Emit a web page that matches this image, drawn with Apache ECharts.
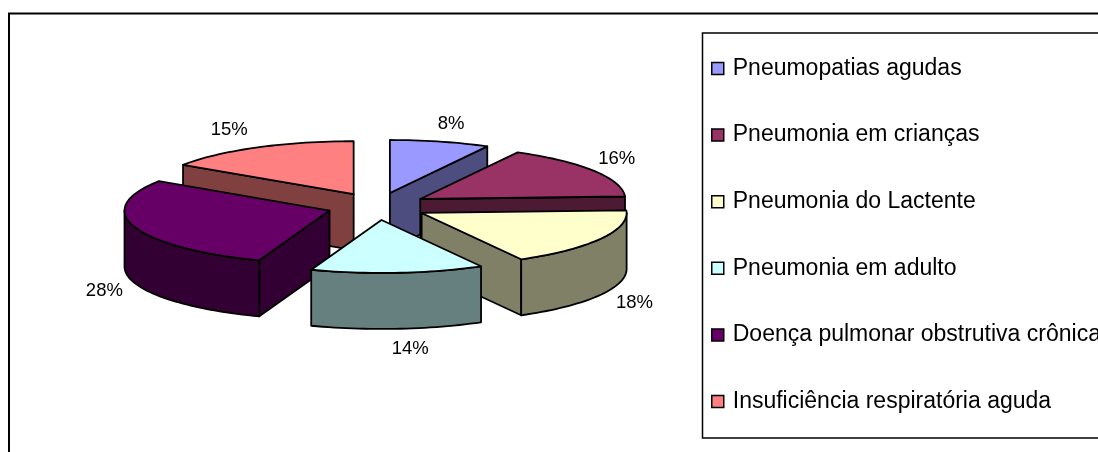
<!DOCTYPE html>
<html>
<head>
<meta charset="utf-8">
<style>html,body{margin:0;padding:0;background:#fff;overflow:hidden}#c{width:1098px;height:452px}</style>
<script src="https://cdn.jsdelivr.net/npm/echarts@6/dist/echarts.min.js"></script>
</head>
<body>
<div id="c"></div>
<script>
var categories = ['Pneumopatias agudas','Pneumonia em crianças','Pneumonia do Lactente','Pneumonia em adulto','Doença pulmonar obstrutiva crônica','Insuficiência respiratória aguda'];
var values = [7.8,16.2,17.5,13.5,28.49,15.49];
var percentLabels = ['8%','16%','18%','14%','28%','15%'];
var topColors = ['#9999ff','#993366','#ffffcc','#ccffff','#660066','#ff8080'];
var wallColors = ['#4d4d80','#4d1a33','#808066','#668080','#330033','#804040'];
var paintOrder = [0,1,5,4,2,3];

var cx=377.5, cy=206.3, rx=205, ry=53, depth=56, explodeX=50.5, explodeY=13.7;
var LW=1.8, FONT='18.5px "Liberation Sans", Arial, sans-serif';
var nudgeX=[3,-5,5,10,1,-12], nudgeY=[2,-1,-2,0,2,0];

var total=values.reduce(function(a,b){return a+b;},0);
function pt(c,t){return [c[0]+rx*Math.sin(t), c[1]-ry*Math.cos(t)];}
function down(p){return [p[0],p[1]+depth];}
function arcPts(c,a,b){var n=Math.max(2,Math.ceil((b-a)/0.03)),o=[];for(var i=0;i<=n;i++)o.push(pt(c,a+(b-a)*i/n));return o;}
function poly(points,fill){return {type:'polygon',shape:{points:points},style:{fill:fill,stroke:'#000',lineWidth:LW,lineJoin:'round'}};}
function quad(a,b){return [a,b,down(b),down(a)];}

function makeRender(idx){
  return function(params,api){
    var share=api.value(0)/total;
    var before=0;for(var k=0;k<idx;k++)before+=values[k]/total;
    var t1=before*2*Math.PI, t2=(before+share)*2*Math.PI, mid=(t1+t2)/2;
    var c=[cx+explodeX*Math.sin(mid), cy-explodeY*Math.cos(mid)];
    var s=pt(c,t1), e=pt(c,t2), ch=[], wall=wallColors[idx];
    if(s[0]<c[0]-0.5) ch.push(poly(quad(c,s),wall));
    if(e[0]>c[0]+0.5) ch.push(poly(quad(c,e),wall));
    var a=Math.max(t1,Math.PI/2), b=Math.min(t2,1.5*Math.PI);
    if(b>a){var top=arcPts(c,a,b);ch.push(poly(top.concat(top.map(down).reverse()),wall));}
    ch.push(poly([c].concat(arcPts(c,t1,t2)),topColors[idx]));
    var m=pt(c,mid), front=Math.cos(mid)<0?depth:0;
    ch.push({type:'text',z2:10,style:{text:percentLabels[idx],
      x:m[0]+33*Math.sin(mid)+nudgeX[idx], y:m[1]+front-20*Math.cos(mid)+nudgeY[idx],
      fill:'#000',font:FONT,align:'center',verticalAlign:'middle'}});
    return {type:'group',children:ch};
  };
}

var chart=echarts.init(document.getElementById('c'),null,{renderer:'canvas'});
chart.setOption({
  animation:false,
  backgroundColor:'#fff',
  graphic:[
    {type:'polyline',silent:true,z:-1,shape:{points:[[9,452],[9,13.5],[1098,13.5]]},style:{stroke:'#000',lineWidth:2,fill:'none'}},
    {type:'rect',silent:true,z:-1,shape:{x:702.5,y:33,width:420,height:405},style:{stroke:'#000',lineWidth:1.5,fill:'#fff'}}
  ],
  legend:{
    orient:'vertical',left:711,top:57,icon:'rect',itemWidth:12,itemHeight:12,itemGap:43.6,padding:0,
    data:categories,selectedMode:false,
    itemStyle:{borderColor:'#000',borderWidth:1.5},
    textStyle:{color:'#000',fontFamily:'"Liberation Sans", Arial, sans-serif',fontSize:23,padding:[0,0,0,4]}
  },
  series:paintOrder.map(function(i){
    return {type:'custom',name:categories[i],coordinateSystem:'none',silent:true,
      itemStyle:{color:topColors[i]},data:[[values[i]]],renderItem:makeRender(i)};
  })
});
</script>
</body>
</html>
